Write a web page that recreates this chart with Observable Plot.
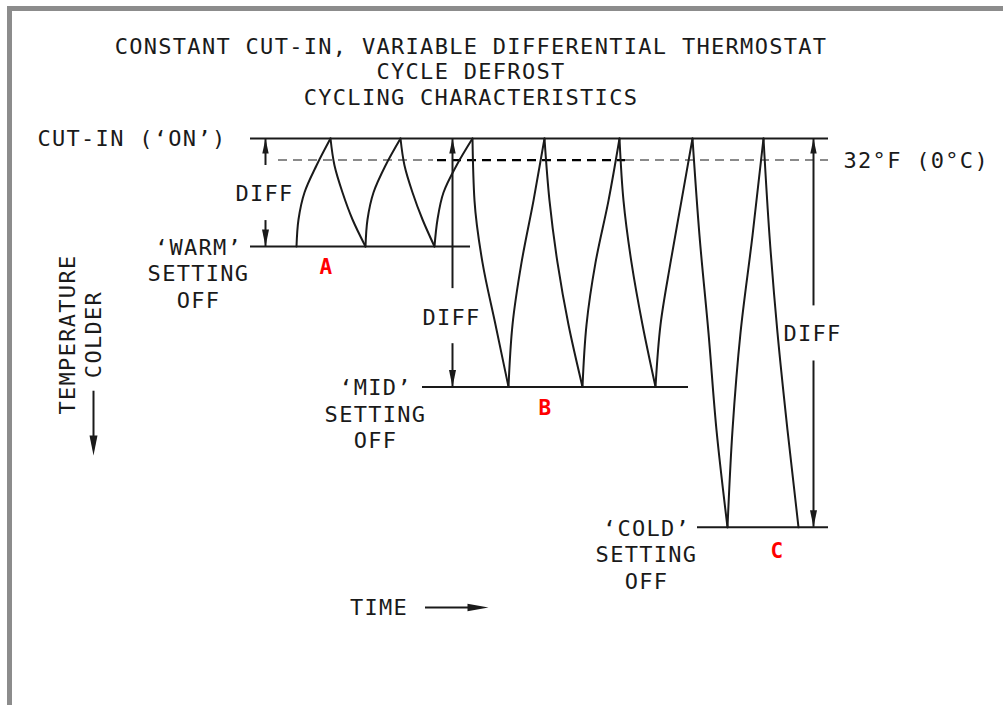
<!DOCTYPE html>
<html><head><meta charset="utf-8">
<script src="https://cdn.jsdelivr.net/npm/d3@7"></script>
<script src="https://cdn.jsdelivr.net/npm/@observablehq/plot@0.6"></script>
<style>
body{margin:0;background:#fff}
#frame{position:relative;width:1003px;height:705px;overflow:hidden;background:#fff}
.bt{position:absolute;left:7px;top:6px;right:0;height:5px;background:#8c8c8c}
.bl{position:absolute;left:7px;top:6px;width:5px;bottom:0;background:#8c8c8c}
#title{box-sizing:border-box;width:942px;height:112px;padding-top:33.6px;text-align:center;font-family:"DejaVu Sans Mono",monospace;font-size:22px;line-height:25.5px;letter-spacing:1.3px;color:#1a1a1a}
#chart svg{display:block}
</style></head>
<body><div id="frame"><div class="bt"></div><div class="bl"></div>
<div id="title"><div>CONSTANT CUT-IN, VARIABLE DIFFERENTIAL THERMOSTAT</div><div>CYCLE DEFROST</div><div>CYCLING CHARACTERISTICS</div></div>
<div id="chart"></div></div>
<script>
// ---- data (time in arbitrary units, temperature relative to cut-in) ----
const cutInTemp = 0;
const cutInSpan = [0, 57.8];
const freezingTemp = -2;            // 32°F (0°C)
const freezeGraySpans = [[2.8, 18.3], [37.5, 57.8]];
const freezeDarkSpans = [[18.7, 37.5]];

const settingNames = ["WARM", "MID", "COLD"];
const offTemps = [-10, -23, -36];
const offLineStart = [0, 17.2, 44.7];
const offLineEnd = [22.0, 43.8, 57.8];
const settingLetters = ["A", "B", "C"];

// sampled temperature levels (top -> bottom) for each setting's strokes
const warmTemps = [0, -2.5, -5, -7.5, -10];
const midTemps = [0, -5.75, -11.5, -17.25, -23];
const coldTemps = [0, -9, -18, -27, -36];

// times read at those levels for each stroke of the temperature trace
const cycleA = [
  [8.0, 6.6, 5.4, 4.8, 4.6],
  [8.0, 8.4, 9.2, 10.2, 11.5],
  [15.0, 13.5, 12.3, 11.7, 11.5],
  [15.0, 15.4, 16.2, 17.2, 18.4],
  [22.2, 20.6, 19.3, 18.7, 18.4]
];
const cycleB = [
  [22.2, 22.4, 23.2, 24.5, 25.8],
  [29.4, 28.3, 27.1, 26.2, 25.8],
  [29.4, 29.9, 30.7, 31.8, 33.2],
  [36.9, 35.8, 34.5, 33.6, 33.2],
  [36.9, 37.3, 38.1, 39.2, 40.5],
  [44.2, 43.1, 42.0, 41.0, 40.5]
];
const cycleC = [
  [44.2, 44.9, 45.8, 46.6, 47.7],
  [51.3, 50.2, 49.0, 48.2, 47.7],
  [51.3, 51.9, 52.7, 53.7, 54.8]
];

// DIFF dimension arrows
const diffTimes = [1.5, 20.2, 56.3];
const diffTopEnd = [-2.5, -13.9, -15.5];
const diffBottomStart = [-7.6, -19.0, -20.6];
const diffLabelTemps = [-5.1, -16.6, -18.1];

// ---- build tables ----
const trace = [];
[[cycleA, warmTemps], [cycleB, midTemps], [cycleC, coldTemps]].forEach(([strokes, temps], k) =>
  strokes.forEach((times, i) => times.forEach((t, j) =>
    trace.push({stroke: settingNames[k] + i, time: t, temp: temps[j]}))));

const offLines = settingNames.map((s, i) => ({name: s, temp: offTemps[i], start: offLineStart[i], end: offLineEnd[i]}));
const cutInLine = [{temp: cutInTemp, start: cutInSpan[0], end: cutInSpan[1]}];
const grayDash = freezeGraySpans.map(([a, b]) => ({temp: freezingTemp, start: a, end: b}));
const darkDash = freezeDarkSpans.map(([a, b]) => ({temp: freezingTemp, start: a, end: b}));
const diffTop = diffTimes.map((t, i) => ({time: t, y1: cutInTemp, y2: diffTopEnd[i]}));
const diffBottom = diffTimes.map((t, i) => ({time: t, y1: diffBottomStart[i], y2: offTemps[i]}));
const headsUp = diffTimes.map(t => ({time: t, temp: cutInTemp}));
const headsDown = diffTimes.map((t, i) => ({time: t, temp: offTemps[i]}));

const ink = "#1a1a1a";
const font = "DejaVu Sans Mono, monospace";
const headUp = {draw(c) { c.moveTo(0, 0); c.lineTo(3.2, 15); c.lineTo(-3.2, 15); c.closePath(); }};
const headDown = {draw(c) { c.moveTo(0, 0); c.lineTo(3.5, -17); c.lineTo(-3.5, -17); c.closePath(); }};
const headDownBig = {draw(c) { c.moveTo(0, 0); c.lineTo(4, -20); c.lineTo(-4, -20); c.closePath(); }};
const headRight = {draw(c) { c.moveTo(0, 0); c.lineTo(-21, 3.8); c.lineTo(-21, -3.8); c.closePath(); }};

const chart = Plot.plot({
  width: 1003, height: 593, margin: 0,
  x: {type: "linear", domain: [0, 57.8], range: [250, 828], axis: null},
  y: {type: "linear", domain: [0, -36], range: [26, 414.8], axis: null},
  style: {fontFamily: font, fontSize: "22px", letterSpacing: "1.3px", color: ink, background: "transparent", overflow: "visible"},
  marks: [
    // 32°F reference
    Plot.ruleY(grayDash, {y: "temp", x1: "start", x2: "end", stroke: "#8a8a8a", strokeWidth: 2, strokeDasharray: "9,6"}),
    Plot.ruleY(darkDash, {y: "temp", x1: "start", x2: "end", stroke: "#000", strokeWidth: 2.3, strokeDasharray: "9,6"}),
    // cut-in and off-setting lines
    Plot.ruleY(cutInLine, {y: "temp", x1: "start", x2: "end", stroke: ink, strokeWidth: 2}),
    Plot.ruleY(offLines, {y: "temp", x1: "start", x2: "end", stroke: ink, strokeWidth: 2}),
    // temperature trace
    Plot.line(trace, {x: "time", y: "temp", z: "stroke", curve: "monotone-y", stroke: ink, strokeWidth: 2}),
    // DIFF dimensions
    Plot.ruleX(diffTop, {x: "time", y1: "y1", y2: "y2", stroke: ink, strokeWidth: 2}),
    Plot.ruleX(diffBottom, {x: "time", y1: "y1", y2: "y2", stroke: ink, strokeWidth: 2}),
    Plot.dot(headsUp, {x: "time", y: "temp", symbol: headUp, fill: ink, stroke: "none"}),
    Plot.dot(headsDown, {x: "time", y: "temp", symbol: headDown, fill: ink, stroke: "none"}),
    Plot.text(diffTimes.map(() => "DIFF"), {x: diffTimes.map(t => t - 0.1), y: diffLabelTemps, fill: ink}),
    // labels
    Plot.text(["CUT-IN (‘ON’)"], {x: -2.4, y: 0, textAnchor: "end", fill: ink}),
    Plot.text(["32°F (0°C)"], {x: 59.3, y: -2.1, textAnchor: "start", fill: ink}),
    Plot.text(["‘WARM’\nSETTING\nOFF"], {x: -5.2, y: -12.45, lineHeight: 1.2, fill: ink}),
    Plot.text(["‘MID’\nSETTING\nOFF"], {x: 12.5, y: -25.45, lineHeight: 1.2, fill: ink}),
    Plot.text(["‘COLD’\nSETTING\nOFF"], {x: 39.6, y: -38.45, lineHeight: 1.2, fill: ink}),
    Plot.text(settingLetters, {x: [7.6, 29.5, 52.7], y: [-11.95, -25.0, -38.25], fill: "#f00", fontWeight: "bold", fontSize: 21}),
    // axis captions
    Plot.text(["TEMPERATURE"], {x: -18.3, y: -18.15, rotate: -90, fill: ink}),
    Plot.text(["COLDER"], {x: -15.7, y: -18.15, rotate: -90, fill: ink}),
    Plot.ruleX([{time: -15.7, y1: -23.4, y2: -28.0}], {x: "time", y1: "y1", y2: "y2", stroke: ink, strokeWidth: 2}),
    Plot.dot([{time: -15.7, temp: -29.35}], {x: "time", y: "temp", symbol: headDownBig, fill: ink, stroke: "none"}),
    Plot.text(["TIME"], {x: 12.85, y: -43.43, fill: ink}),
    Plot.ruleY([{temp: -43.43, x1: 17.5, x2: 22.5}], {y: "temp", x1: "x1", x2: "x2", stroke: ink, strokeWidth: 2}),
    Plot.dot([{time: 23.8, temp: -43.43}], {x: "time", y: "temp", symbol: headRight, fill: ink, stroke: "none"})
  ]
});
document.getElementById("chart").appendChild(chart);
</script>
</body></html>
